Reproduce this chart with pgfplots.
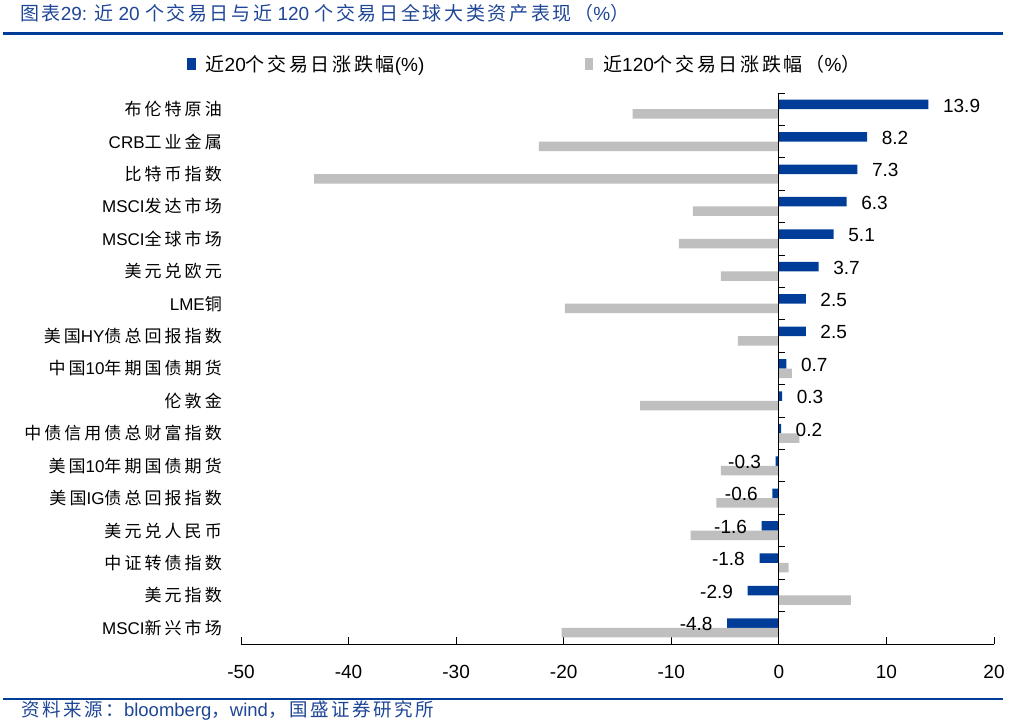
\documentclass[border=0pt]{standalone}
\usepackage{fontspec}
\setmainfont{Liberation Sans}
\newfontfamily\cjk[LetterSpace=14]{Noto Sans CJK SC}
\newfontfamily\cjkwide[LetterSpace=18]{Noto Sans CJK SC}
\usepackage{pgfplots}
\pgfplotsset{compat=1.18}
\usepackage{pgfplotstable}

\definecolor{barblue}{RGB}{0,61,153}
\definecolor{bargray}{RGB}{191,191,191}
\definecolor{titleblue}{RGB}{30,70,150}
\definecolor{ruleblue}{RGB}{0,61,153}
\newcommand{\fs}[1]{\fontsize{#1}{#1}\selectfont}
\newcommand{\zh}[1]{{\cjk #1}}
\newcommand{\zl}[1]{{\cjkwide\fs{17}#1}}

% idx, 20-day change, 120-day change
\pgfplotstableread{
idx blue gray
0 13.9 -13.6
1 8.2 -22.3
2 7.3 -43.2
3 6.3 -8.0
4 5.1 -9.3
5 3.7 -5.4
6 2.5 -19.9
7 2.5 -3.8
8 0.7 1.2
9 0.3 -12.9
10 0.2 1.9
11 -0.3 -5.4
12 -0.6 -5.8
13 -1.6 -8.2
14 -1.8 0.9
15 -2.9 6.7
16 -4.8 -20.2
}\assets

\begin{document}
\begin{tikzpicture}[x=1pt,y=1pt]
\path[use as bounding box] (0,0) rectangle (1014,-726);

\node[anchor=west, inner sep=0pt, text=titleblue, font=\fs{19}] at (20,-13)
  {\zh{图表}29: \zh{近} 20 \zh{个交易日与近} 120 \zh{个交易日全球大类资产表现（}\%\zh{）}};
\draw[ruleblue, line width=3pt] (3,-33) -- (1003,-33);
\draw[ruleblue, line width=2pt] (3,-699) -- (1003,-699);
\node[anchor=west, inner sep=0pt, text=titleblue, font=\fs{18.5}] at (21,-711)
  {\zh{资料来源：}bloomberg\zh{，}wind\zh{，国盛证券研究所}};

\begin{axis}[
  at={(241pt,-644pt)}, anchor=south west,
  scale only axis, width=753pt, height=551pt,
  xbar=0pt, bar width=9.5pt,
  xmin=-50, xmax=20, ymin=-0.5, ymax=16.5, y dir=reverse,
  enlargelimits=false, clip=false,
  axis x line=bottom, axis y line=left,
  x axis line style={-, line width=1pt, black},
  y axis line style={draw=none},
  xtick={-50,-40,...,20}, tick align=inside, major tick length=7pt,
  xtick style={line width=1pt, black},
  ytick={0,...,16}, ytick style={draw=none},
  /pgf/number format/assume math mode=true,
  xticklabel style={font=\fs{19}, inner sep=0pt, anchor=north, yshift=-21pt},
  yticklabel style={font=\fs{17}, inner sep=0pt, anchor=east, xshift=-19pt},
  yticklabels={
    \zl{布伦特原油},
    CRB\zl{工业金属},
    \zl{比特币指数},
    MSCI\zl{发达市场},
    MSCI\zl{全球市场},
    \zl{美元兑欧元},
    LME\zl{铜},
    \zl{美国}HY\zl{债总回报指数},
    \zl{中国}10\zl{年期国债期货},
    \zl{伦敦金},
    \zl{中债信用债总财富指数},
    \zl{美国}10\zl{年期国债期货},
    \zl{美国}IG\zl{债总回报指数},
    \zl{美元兑人民币},
    \zl{中证转债指数},
    \zl{美元指数},
    MSCI\zl{新兴市场}},
  legend columns=2,
  legend style={at={(-0.0717,1.0526)}, anchor=west, draw=none, fill=none,
    inner sep=0pt, /tikz/every even column/.append style={column sep=0pt},
    nodes={inner sep=0pt, font=\fs{19}}},
  every axis plot post/.append style={
    legend image code/.code={\fill[##1, draw=none] (0pt,-6pt) rectangle (8.5pt,6pt);}},
]
\addplot[fill=barblue, draw=none, bar shift=4.75pt,
  nodes near coords, point meta=x,
  visualization depends on={rawx \as \rawx},
  every node near coord/.append style={
    anchor={\ifdim\rawx pt<0pt east\else west\fi}, inner ysep=0pt,
    inner xsep=14.5pt, yshift=-1pt, font=\fs{19}, black,
    /pgf/number format/.cd, fixed, fixed zerofill, precision=1}]
  table[x=blue, y=idx] {\assets};
\addlegendentry{\makebox[389pt][l]{\hspace{10pt}\zh{近}20\zh{个交易日涨跌幅}(\%)}}
\addplot[fill=bargray, draw=none, bar shift=-4.75pt] table[x=gray, y=idx] {\assets};
\addlegendentry{\hspace{10pt}\zh{近}120\zh{个交易日涨跌幅（}\%\zh{）}}

\draw[black, line width=1pt] (axis cs:0,-0.5) -- (axis cs:0,16.5);
\pgfplotsinvokeforeach{-0.5,0.5,...,15.5}{
  \draw[black, line width=1pt] (axis cs:0,#1) -- ++(6pt,0pt);
}
\end{axis}
\end{tikzpicture}
\end{document}
